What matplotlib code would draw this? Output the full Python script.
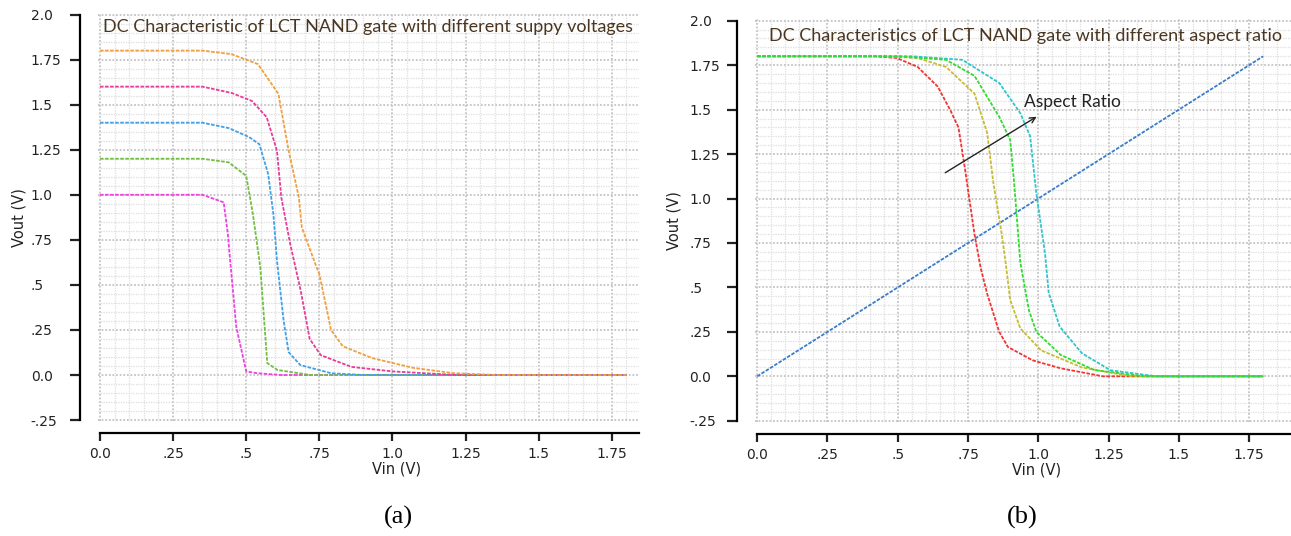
import matplotlib.pyplot as plt
from matplotlib.ticker import MultipleLocator
import numpy as np

# (a) different supply voltages
vdd18_x = [0, 0.35, 0.45, 0.54, 0.61, 0.645, 0.68, 0.69, 0.74, 0.75, 0.79, 0.83, 0.93, 1.07, 1.21, 1.36, 1.8]
vdd18_y = [1.8, 1.8, 1.78, 1.725, 1.56, 1.245, 0.985, 0.82, 0.60, 0.56, 0.25, 0.16, 0.094, 0.04, 0.01, 0.0, 0.0]
vdd16_x = [0, 0.35, 0.45, 0.52, 0.57, 0.605, 0.62, 0.65, 0.686, 0.717, 0.755, 0.86, 1.0, 1.22, 1.8]
vdd16_y = [1.6, 1.6, 1.565, 1.52, 1.43, 1.245, 0.985, 0.73, 0.47, 0.2, 0.11, 0.045, 0.02, 0.0, 0.0]
vdd14_x = [0, 0.35, 0.44, 0.51, 0.545, 0.575, 0.593, 0.605, 0.628, 0.645, 0.685, 0.79, 0.9, 1.8]
vdd14_y = [1.4, 1.4, 1.37, 1.32, 1.28, 1.115, 0.89, 0.636, 0.30, 0.127, 0.055, 0.01, 0.0, 0.0]
vdd12_x = [0, 0.35, 0.44, 0.50, 0.523, 0.548, 0.572, 0.607, 0.72, 1.8]
vdd12_y = [1.2, 1.2, 1.18, 1.105, 0.89, 0.60, 0.066, 0.028, 0.0, 0.0]
vdd10_x = [0, 0.35, 0.423, 0.437, 0.445, 0.466, 0.50, 0.537, 0.62, 1.8]
vdd10_y = [1.0, 1.0, 0.958, 0.785, 0.636, 0.267, 0.02, 0.01, 0.0, 0.0]

# (b) different aspect ratio
ref_x = [0, 1.8]
ref_y = [0, 1.8]
ar1_x = [0, 0.42, 0.497, 0.571, 0.642, 0.686, 0.716, 0.738, 0.773, 0.795, 0.818, 0.861, 0.892, 0.98, 1.08, 1.23, 1.8]
ar1_y = [1.8, 1.8, 1.79, 1.74, 1.63, 1.50, 1.40, 1.18, 0.80, 0.61, 0.465, 0.25, 0.165, 0.09, 0.045, 0.0, 0.0]
ar2_x = [0, 0.45, 0.571, 0.672, 0.773, 0.818, 0.84, 0.87, 0.883, 0.90, 0.936, 1.01, 1.155, 1.33, 1.8]
ar2_y = [1.8, 1.8, 1.79, 1.74, 1.59, 1.37, 1.09, 0.80, 0.65, 0.43, 0.27, 0.146, 0.05, 0.0, 0.0]
ar3_x = [0, 0.5, 0.672, 0.773, 0.861, 0.90, 0.914, 0.936, 0.967, 0.993, 1.08, 1.2, 1.38, 1.8]
ar3_y = [1.8, 1.8, 1.78, 1.69, 1.46, 1.33, 1.09, 0.64, 0.37, 0.25, 0.12, 0.035, 0.0, 0.0]
ar4_x = [0, 0.55, 0.73, 0.861, 0.936, 0.971, 0.993, 1.024, 1.037, 1.076, 1.155, 1.257, 1.42, 1.8]
ar4_y = [1.8, 1.8, 1.78, 1.65, 1.48, 1.35, 1.03, 0.69, 0.47, 0.28, 0.13, 0.034, 0.0, 0.0]

xticks = [0, 0.25, 0.5, 0.75, 1.0, 1.25, 1.5, 1.75]
xtick_labels = ["0.0", ".25", ".5", ".75", "1.0", "1.25", "1.5", "1.75"]
yticks = [-0.25, 0, 0.25, 0.5, 0.75, 1.0, 1.25, 1.5, 1.75, 2.0]
ytick_labels = ["-.25", "0.0", ".25", ".5", ".75", "1.0", "1.25", "1.5", "1.75", "2.0"]

LS = (0, (2, 0.8))
LW = 1.3
TITLE_COLOR = "#4a3520"

fig = plt.figure(figsize=(12.91, 5.36), dpi=100)
ax1 = fig.add_axes([0.0759, 0.2146, 0.4191, 0.7593])
ax2 = fig.add_axes([0.5852, 0.2133, 0.4148, 0.7507])


def style_axes(ax, xlim, ylim, ylab_x, ypad):
    ax.set_xlim(*xlim)
    ax.set_ylim(*ylim)
    ax.xaxis.set_major_locator(MultipleLocator(0.25))
    ax.xaxis.set_minor_locator(MultipleLocator(0.05))
    ax.yaxis.set_major_locator(MultipleLocator(0.25))
    ax.yaxis.set_minor_locator(MultipleLocator(0.05))
    ax.grid(which="major", color="#c4c4c4", linestyle=(0, (1, 1)), linewidth=1.3)
    ax.grid(which="minor", color="#dedede", linestyle=(0, (1, 1)), linewidth=0.9)
    ax.set_axisbelow(True)
    for s in ["top", "right"]:
        ax.spines[s].set_visible(False)
    ax.spines["left"].set_position(("outward", 13))
    ax.spines["bottom"].set_position(("outward", 9))
    ax.spines["left"].set_bounds(-0.25, 2.0)
    ax.spines["bottom"].set_bounds(0, xlim[1])
    ax.spines["left"].set_linewidth(1.6)
    ax.spines["bottom"].set_linewidth(1.6)
    ax.set_xticks(xticks)
    ax.set_xticklabels(xtick_labels)
    ax.set_yticks(yticks)
    ax.set_yticklabels(ytick_labels)
    ax.tick_params(which="minor", length=0)
    ax.tick_params(axis="x", which="major", length=6, width=1.6, pad=4, labelsize=10, colors="#222222")
    ax.tick_params(axis="y", which="major", length=7, width=1.6, pad=ypad, labelsize=10, colors="#222222")
    for lab in ax.get_yticklabels():
        lab.set_horizontalalignment("left")
    ax.set_xlabel("Vin (V)", fontsize=10.5, color="#222222")
    ax.set_ylabel("Vout (V)", fontsize=10.5, color="#222222")
    ax.yaxis.set_label_coords(ylab_x, 0.5)


style_axes(ax1, (-0.0068, 1.843), (-0.255, 2.003), -0.133, 28.5)
ax1.xaxis.set_label_coords(0.551, -0.100)
ax1.plot(vdd10_x, vdd10_y, color="#f040e0", lw=LW, ls=LS)
ax1.plot(vdd12_x, vdd12_y, color="#70bf40", lw=LW, ls=LS)
ax1.plot(vdd14_x, vdd14_y, color="#40a0e8", lw=LW, ls=LS)
ax1.plot(vdd16_x, vdd16_y, color="#e83c9c", lw=LW, ls=LS)
ax1.plot(vdd18_x, vdd18_y, color="#f0a040", lw=LW, ls=LS)
ax1.text(0.009, 0.988, "DC Characteristic of LCT NAND gate with different suppy voltages",
         transform=ax1.transAxes, ha="left", va="top", fontsize=13, family="Lato", color=TITLE_COLOR)

style_axes(ax2, (-0.006, 1.899), (-0.255, 2.008), -0.138, 27.5)
ax2.xaxis.set_label_coords(0.524, -0.101)
ax2.plot(ref_x, ref_y, color="#3a7cc8", lw=LW, ls=LS)
ax2.plot(ar1_x, ar1_y, color="#f03535", lw=LW, ls=LS)
ax2.plot(ar2_x, ar2_y, color="#c8bc30", lw=LW, ls=LS)
ax2.plot(ar4_x, ar4_y, color="#30c4cc", lw=LW, ls=LS)
ax2.plot(ar3_x, ar3_y, color="#30dc30", lw=LW, ls=LS)
ax2.text(0.025, 0.978, "DC Characteristics of LCT NAND gate with different aspect ratio",
         transform=ax2.transAxes, ha="left", va="top", fontsize=13, family="Lato", color=TITLE_COLOR)
ax2.annotate("", xy=(0.994, 1.46), xytext=(0.669, 1.145),
             arrowprops=dict(arrowstyle="->", color="#222222", lw=1.0, shrinkA=0, shrinkB=0))
ax2.text(0.949, 1.544, "Aspect Ratio", fontsize=12.5, family="Lato", color="#222222",
         ha="left", va="center")

fig.text(0.309, 0.034, "(a)", fontsize=19, family="Liberation Serif", ha="center", va="center")
fig.text(0.7916, 0.034, "(b)", fontsize=19, family="Liberation Serif", ha="center", va="center")

plt.savefig("out.png", dpi=100)
